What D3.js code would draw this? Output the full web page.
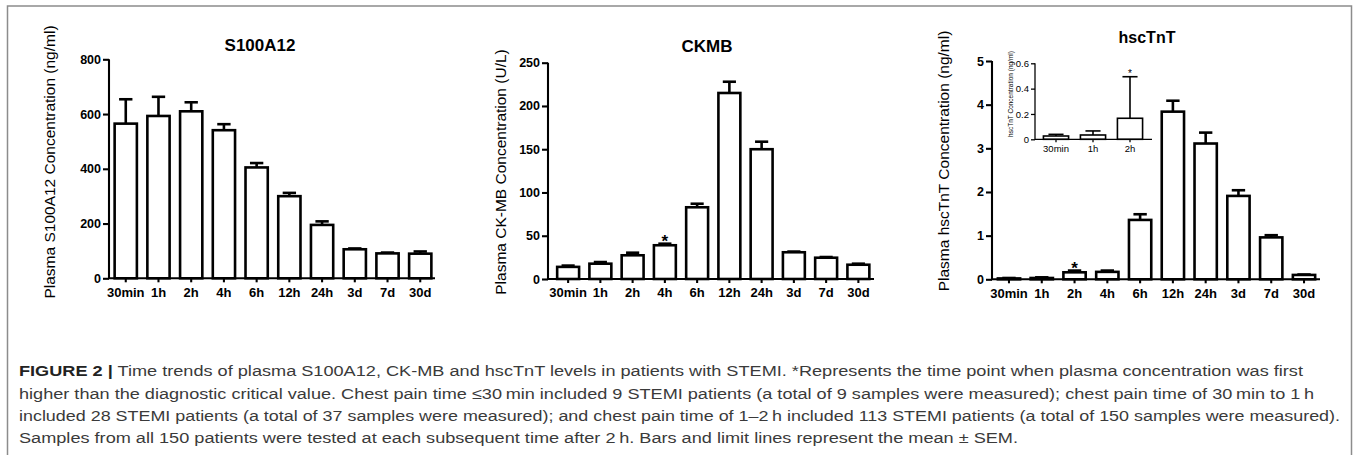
<!DOCTYPE html>
<html>
<head>
<meta charset="utf-8">
<script src="https://cdn.jsdelivr.net/npm/d3@7/dist/d3.min.js"></script>
<style>
  html, body { margin: 0; padding: 0; background: #fff; }
  svg { display: block; }
</style>
</head>
<body>
<svg id="chart" width="1357" height="455"></svg>
<script>
// ---------------- DATA ----------------
const categories = ["30min", "1h", "2h", "4h", "6h", "12h", "24h", "3d", "7d", "30d"];

const s100Mean = [565, 593, 610, 541, 405, 300, 195, 106, 91, 90];
const s100Sem  = [89, 70, 33, 22, 16, 12, 13, 3, 3, 8];
const s100Ticks = [0, 200, 400, 600, 800];

const ckmbMean = [14, 17.7, 27.4, 39, 82.9, 215, 150, 30.9, 24.6, 16.5];
const ckmbSem  = [1.5, 1.9, 3, 1.8, 4.1, 13, 8.7, 0.8, 0.8, 1.2];
const ckmbTicks = [0, 50, 100, 150, 200, 250];

const tntMean = [0.02, 0.03, 0.16, 0.17, 1.36, 3.84, 3.11, 1.91, 0.96, 0.1];
const tntSem  = [0.01, 0.015, 0.04, 0.03, 0.13, 0.25, 0.25, 0.13, 0.05, 0.01];
const tntTicks = [0, 1, 2, 3, 4, 5];

const insetCategories = ["30min", "1h", "2h"];
const insetMean = [0.026, 0.034, 0.166];
const insetSem  = [0.013, 0.032, 0.328];
const insetTicks = [0, 0.2, 0.4, 0.6];
const insetTickLabels = ["0", "0.2", "0.4", "0.6"];

const captionLines = [
  ["FIGURE 2 |", " Time trends of plasma S100A12, CK-MB and hscTnT levels in patients with STEMI. *Represents the time point when plasma concentration was first"],
  ["", "higher than the diagnostic critical value. Chest pain time \u226430\u2009min included 9 STEMI patients (a total of 9 samples were measured); chest pain time of 30\u2009min to 1\u2009h"],
  ["", "included 28 STEMI patients (a total of 37 samples were measured); and chest pain time of 1\u20132\u2009h included 113 STEMI patients (a total of 150 samples were measured)."],
  ["", "Samples from all 150 patients were tested at each subsequent time after 2\u2009h. Bars and limit lines represent the mean \u00b1 SEM."]
];

// ---------------- DRAW ----------------
const svg = d3.select("#chart");
const FONT = "'Liberation Sans', Arial, Helvetica, sans-serif";

// frame
svg.append("path")
  .attr("d", "M7.5,470 V6 H1351.5 V470")
  .attr("fill", "none").attr("stroke", "#8c8c8c").attr("stroke-width", 1.5);

function panel(cfg) {
  const g = svg.append("g");
  const x = d3.scaleBand().domain(cfg.cats).range(cfg.band).paddingInner(0.32).paddingOuter(0.16);
  const y = d3.scaleLinear().domain(cfg.domain).range(cfg.yRange);
  const sw = cfg.sw;

  const bw = x.bandwidth();
  cfg.mean.forEach((m, i) => {
    const cx = x(cfg.cats[i]) + bw / 2;
    const top = y(m + cfg.sem[i]);
    g.append("line").attr("x1", cx).attr("x2", cx).attr("y1", y(m)).attr("y2", top)
      .attr("stroke", "#000").attr("stroke-width", sw);
    g.append("line").attr("x1", cx - bw * 0.3).attr("x2", cx + bw * 0.3).attr("y1", top).attr("y2", top)
      .attr("stroke", "#000").attr("stroke-width", sw);
    g.append("rect").attr("x", x(cfg.cats[i])).attr("width", bw)
      .attr("y", y(m)).attr("height", Math.max(0, y(0) - y(m)))
      .attr("fill", "#fff").attr("stroke", "#000").attr("stroke-width", sw);
  });

  // y axis
  const yAxis = d3.axisLeft(y).tickValues(cfg.ticks).tickSize(cfg.ytick).tickSizeOuter(0).tickPadding(2)
    .tickFormat((d, i) => cfg.tickLabels ? cfg.tickLabels[i] : String(d));
  const ga = g.append("g").attr("transform", `translate(${cfg.axisX},0)`).call(yAxis);
  ga.select(".domain").remove();
  ga.selectAll("line").attr("stroke", "#000").attr("stroke-width", sw * 0.8);
  ga.selectAll("text").attr("font-family", FONT).attr("font-size", cfg.tickFs)
    .attr("font-weight", cfg.bold ? "bold" : "normal").attr("fill", "#000");

  // x axis
  const xAxis = d3.axisBottom(x).tickSize(cfg.xtick).tickSizeOuter(0).tickPadding(cfg.xpad);
  const gx = g.append("g").attr("transform", `translate(0,${y(0)})`).call(xAxis);
  gx.select(".domain").remove();
  gx.selectAll("line").attr("stroke", "#000").attr("stroke-width", sw * 0.8);
  gx.selectAll("text").attr("font-family", FONT).attr("font-size", cfg.xFs)
    .attr("font-weight", cfg.bold ? "bold" : "normal").attr("fill", "#000");

  // axis lines
  g.append("path")
    .attr("d", `M${cfg.axisX},${y(cfg.domain[1])} V${y(0)} H${cfg.axisEnd}`)
    .attr("fill", "none").attr("stroke", "#000").attr("stroke-width", sw * 0.8);

  // y label
  g.append("text")
    .attr("transform", `translate(${cfg.labelX},${cfg.labelY}) rotate(-90)`)
    .attr("text-anchor", "middle").attr("dominant-baseline", "central")
    .attr("font-family", FONT).attr("font-size", cfg.labelFs).attr("fill", "#000")
    .text(cfg.ylabel);

  if (cfg.title) {
    g.append("text").attr("x", cfg.titleX).attr("y", cfg.titleY)
      .attr("text-anchor", "middle").attr("font-family", FONT).attr("font-weight", "bold")
      .attr("font-size", cfg.titleFs).attr("fill", "#000").text(cfg.title);
  }

  if (cfg.star !== undefined) {
    const i = cfg.star;
    const cx = x(cfg.cats[i]) + bw / 2;
    g.append("text").attr("x", cx).attr("y", y(cfg.mean[i] + cfg.sem[i]) + cfg.starDy)
      .attr("text-anchor", "middle").attr("font-family", FONT)
      .attr("font-weight", cfg.bold ? "bold" : "normal")
      .attr("font-size", cfg.starFs).attr("fill", "#000").text("*");
  }
}

panel({
  cats: categories, mean: s100Mean, sem: s100Sem, ticks: s100Ticks,
  domain: [0, 800], yRange: [278.3, 59.3], band: [109.4, 436.6],
  axisX: 109, axisEnd: 435, sw: 2.6, ytick: 6, xtick: 4, xpad: 5,
  tickFs: 12.5, xFs: 13, bold: true,
  ylabel: "Plasma S100A12 Concentration (ng/ml)", labelX: 49, labelY: 162, labelFs: 15.5,
  title: "S100A12", titleX: 260, titleY: 51, titleFs: 17
});

panel({
  cats: categories, mean: ckmbMean, sem: ckmbSem, ticks: ckmbTicks,
  domain: [0, 250], yRange: [279, 62.7], band: [552, 874.5],
  axisX: 548, axisEnd: 874, sw: 2.6, ytick: 6, xtick: 4, xpad: 5,
  tickFs: 12.5, xFs: 13, bold: true,
  ylabel: "Plasma CK-MB Concentration (U/L)", labelX: 500, labelY: 172, labelFs: 15.5,
  title: "CKMB", titleX: 707, titleY: 52, titleFs: 17,
  star: 3, starDy: 3, starFs: 17
});

panel({
  cats: categories, mean: tntMean, sem: tntSem, ticks: tntTicks,
  domain: [0, 5], yRange: [279.3, 61], band: [992.6, 1320.4],
  axisX: 992, axisEnd: 1320, sw: 2.6, ytick: 6, xtick: 4, xpad: 5,
  tickFs: 12.5, xFs: 13, bold: true,
  ylabel: "Plasma hscTnT Concentration (ng/ml)", labelX: 943, labelY: 161, labelFs: 15.5,
  title: "hscTnT", titleX: 1147, titleY: 43, titleFs: 16,
  star: 2, starDy: 3, starFs: 17
});

// inset
panel({
  cats: insetCategories, mean: insetMean, sem: insetSem, ticks: insetTicks, tickLabels: insetTickLabels,
  domain: [0, 0.6], yRange: [139.3, 63.3], band: [1037.5, 1148.5],
  axisX: 1035, axisEnd: 1152, sw: 1.6, ytick: 4, xtick: 3, xpad: 3,
  tickFs: 9.5, xFs: 9.5, bold: false,
  ylabel: "hscTnT Concentration (ng/ml)", labelX: 1010, labelY: 94, labelFs: 6.5,
  star: 2, starDy: 0, starFs: 10
});

// caption
const capTargets = [1303, 1314, 1340, 1018];
const capY = [376, 399, 421, 443];
captionLines.forEach((ln, i) => {
  const t = svg.append("text").attr("x", 19).attr("y", capY[i])
    .attr("font-family", FONT).attr("font-size", 15.5).attr("fill", "#3a3a3a")
    .attr("textLength", capTargets[i] - 19).attr("lengthAdjust", "spacingAndGlyphs");
  if (ln[0]) t.append("tspan").attr("font-weight", "bold").attr("fill", "#222").text(ln[0]);
  t.append("tspan").text(ln[1]);
});
</script>
</body>
</html>
